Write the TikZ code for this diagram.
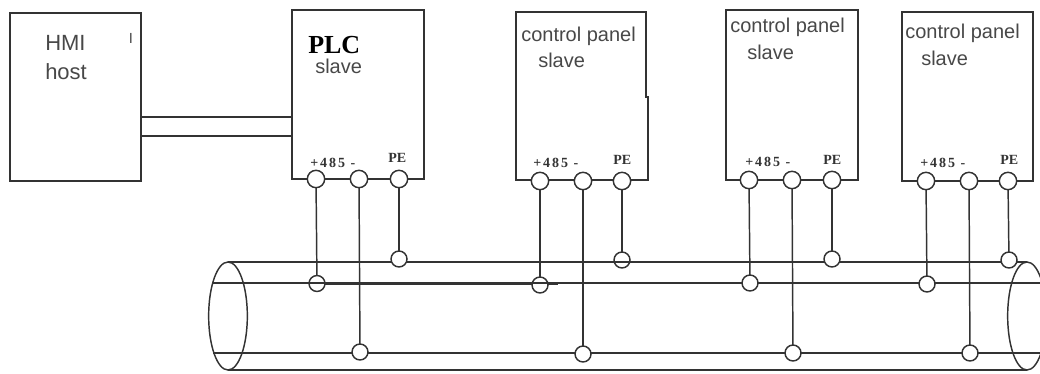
\documentclass[tikz,border=0pt]{standalone}
\usepackage{fontspec}
\setmainfont{Liberation Sans}
\newfontfamily\serifbold{Liberation Serif}
\newfontfamily\pinspaced[LetterSpace=14]{Liberation Serif}
\usetikzlibrary{shapes.geometric}
\definecolor{ink}{HTML}{333333}
\definecolor{txt}{HTML}{484848}
\tikzset{
  wire/.style={draw=ink,line width=1.1pt},
  box/.style={rectangle,draw=ink,line width=1.4pt,inner sep=0pt,outer sep=0pt},
  term/.style={circle,draw=ink,fill=white,line width=1.1pt,minimum size=13pt,inner sep=0pt,outer sep=0pt},
  tap/.style={circle,draw=ink,fill=white,line width=1.1pt,minimum size=12pt,inner sep=0pt,outer sep=0pt},
  cable/.style={ellipse,draw=ink,line width=1.1pt,minimum width=29pt,minimum height=81pt,inner sep=0pt,outer sep=0pt},
  lab/.style={anchor=base west,inner sep=0pt,text=txt,font=\fontsize{15}{15}\selectfont},
  big/.style={anchor=base west,inner sep=0pt,text=txt,font=\fontsize{16.5}{16.5}\selectfont},
  plcfont/.style={anchor=base west,inner sep=0pt,text=black,font=\serifbold\bfseries\fontsize{19.5}{19.5}\selectfont},
  pin/.style={anchor=base west,inner sep=0pt,text=ink,font=\serifbold\bfseries\fontsize{10.5}{10.5}\selectfont},
  bus485/.style={anchor=base west,inner sep=0pt,text=ink,font=\pinspaced\bfseries\fontsize{10.5}{10.5}\selectfont},
}
\begin{document}
\begin{tikzpicture}[x=0.75pt,y=-0.75pt]
\useasboundingbox (0,0) rectangle (1040,374);
\clip (0,0) rectangle (1040,374);
% boxes
\node[box,minimum width=131*0.75pt,minimum height=168*0.75pt] (hmi) at (75.5,97) {};
\node[box,minimum width=132*0.75pt,minimum height=169*0.75pt] (plc) at (358,94.5) {};
\node[inner sep=0pt,outer sep=0pt,minimum width=132*0.75pt,minimum height=168*0.75pt] (p1) at (582,96) {};
\draw[draw=ink,line width=1.4pt] (p1.south east) -- (648,97) -- (646,97) -- (646,12) -- (p1.north west) -- (p1.south west) -- cycle;
\node[box,minimum width=132*0.75pt,minimum height=170*0.75pt] (p2) at (792,95) {};
\node[box,minimum width=131*0.75pt,minimum height=169*0.75pt] (p3) at (967.5,96.5) {};
% HMI to PLC link
\draw[wire] (hmi.east |- 0,117) -- (plc.west |- 0,117);
\draw[wire] (hmi.east |- 0,136) -- (plc.west |- 0,136);
% cable ends
\node[cable] (cl) at (228,316) {};
\node[cable] (cr) at (1027,316) {};
\coordinate (ml) at (212,283);
\coordinate (mr) at (1040,283);
\coordinate (bl) at (213,353);
\coordinate (br) at (1040,353);
\coordinate (thicka) at (317,284);
\coordinate (thickb) at (558,284);
% cable lines
\draw[wire] (cl.north) -- (cr.north);
\draw[wire] (cl.south) -- (cr.south);
\draw[wire] (ml) -- (mr);
\draw[draw=ink,line width=1.7pt] (thicka) -- (thickb);
\draw[wire] (bl) -- (br);
% terminals
\foreach \n/\x/\y in {a/316/179,b/359/179,c/399/179,d/540/181,e/583/181,f/622/181,g/749/180,h/792/180,i/832/180,j/926/181,k/969/181,l/1008/181}
  \node[term] (t\n) at (\x,\y) {};
% bus taps
\foreach \n/\x/\y in {a/317/283.5,b/360/352,c/399/259,d/540/285,e/583/354,f/622/260,g/750/283,h/793/353,i/832/259,j/927/284,k/970/353,l/1009/260}
  \node[tap] (u\n) at (\x,\y) {};
% drops
\foreach \n in {a,b,c,d,e,f,g,h,i,j,k,l}
  \draw[wire] (t\n) -- (u\n);
% bus line seen through three of the taps
\draw[draw=ink,line width=0.8pt] (uf.west |- cl.north) -- (uf.east |- cl.north);
\draw[draw=ink,line width=0.8pt] (ud.west |- ml) -- (ud.east |- ml);
\draw[draw=ink,line width=0.8pt] (ua.west |- ml) -- (ua.east |- ml);
% text
\node[big] (t1) at (45,51) {HMI};
\node[big] (t2) at (45,80) {host};
\node[anchor=center,inner sep=0pt,text=txt,font=\fontsize{11}{11}\selectfont] (t3) at (131,38) {I};
\node[plcfont] (t4) at (308,54) {PLC};
\node[lab] (t5) at (315,74) {slave};
\node[lab] (t6) at (521,42) {control panel};
\node[lab] (t7) at (538,68) {slave};
\node[lab] (t8) at (730,33) {control panel};
\node[lab] (t9) at (747,60) {slave};
\node[lab] (t10) at (905,39) {control panel};
\node[lab] (t11) at (921,66) {slave};
\node[bus485] (q1) at (310,168) {+485 -};
\node[pin] (q2) at (388,163) {PE};
\node[bus485] (q3) at (533,168) {+485 -};
\node[pin] (q4) at (613,165) {PE};
\node[bus485] (q5) at (745,167) {+485 -};
\node[pin] (q6) at (823,165) {PE};
\node[bus485] (q7) at (920,168) {+485 -};
\node[pin] (q8) at (1000,165) {PE};
\end{tikzpicture}
\end{document}
